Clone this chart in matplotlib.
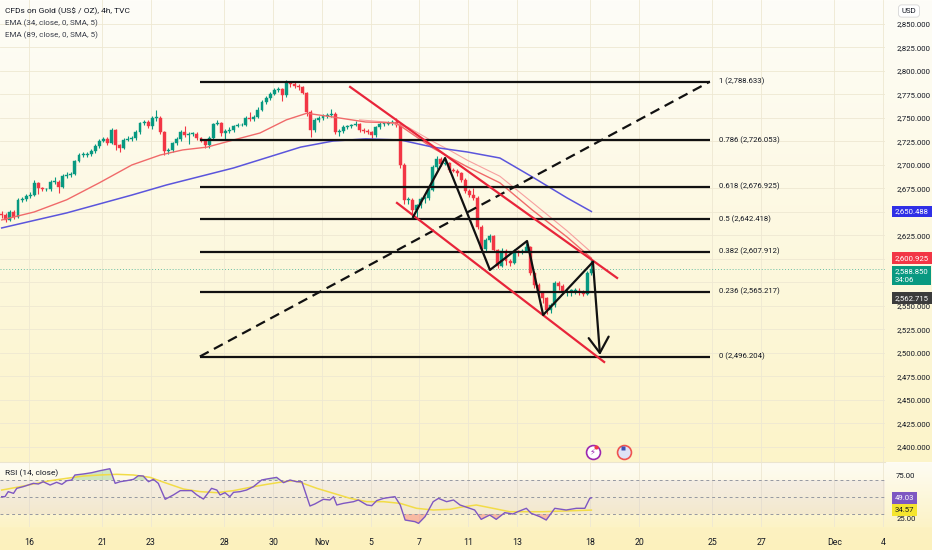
import numpy as np
import matplotlib.pyplot as plt
import matplotlib.transforms as mtransforms
from matplotlib.colors import to_rgb

plt.rcParams['font.family'] = ['Liberation Sans Narrow', 'Roboto', 'DejaVu Sans']

# ---- XAUUSD 4h candles, Oct 15 -> Nov 18 ----
first_open = 2648
closes = [2647, 2641, 2650, 2645, 2663, 2664, 2667, 2668, 2681, 2675,
          2674, 2674, 2682, 2682, 2677, 2688, 2689, 2690, 2704, 2711,
          2711, 2712, 2715, 2720, 2726, 2728, 2723, 2737, 2721, 2718,
          2727, 2728, 2729, 2735, 2745, 2746, 2741, 2750, 2750, 2735,
          2715, 2716, 2723, 2728, 2735, 2732, 2733, 2733, 2729, 2726,
          2721, 2729, 2744, 2745, 2734, 2736, 2737, 2741, 2742, 2743,
          2750, 2749, 2751, 2759, 2767, 2771, 2776, 2780, 2781, 2774,
          2787, 2786, 2784, 2783, 2777, 2756, 2737, 2748, 2750, 2752,
          2753, 2754, 2735, 2736, 2740, 2741, 2742, 2744, 2737, 2736,
          2735, 2732, 2740, 2744, 2744, 2745, 2746, 2742, 2700, 2663,
          2663, 2652, 2657, 2664, 2665, 2673, 2698, 2706, 2701, 2702,
          2695, 2694, 2691, 2684, 2672, 2668, 2665, 2634, 2611, 2620,
          2624, 2610, 2593, 2609, 2598, 2596, 2609, 2608, 2609, 2613,
          2585, 2572, 2564, 2558, 2546, 2551, 2574, 2571, 2565, 2566,
          2566, 2566, 2565, 2563, 2585, 2588.85]
highs = [2651, 2649, 2652, 2652, 2665, 2666, 2669, 2671, 2684, 2682,
         2677, 2676, 2684, 2687, 2684, 2690, 2693, 2692, 2705, 2713,
         2714, 2714, 2717, 2722, 2728, 2730, 2730, 2739, 2738, 2722,
         2729, 2731, 2731, 2737, 2746, 2748, 2748, 2752, 2758, 2752,
         2736, 2718, 2724, 2730, 2737, 2741, 2735, 2735, 2735, 2730,
         2727, 2731, 2745, 2748, 2746, 2738, 2740, 2743, 2745, 2745,
         2752, 2756, 2753, 2762, 2769, 2773, 2778, 2782, 2783, 2782,
         2790, 2789, 2788, 2786, 2784, 2778, 2758, 2750, 2752, 2754,
         2755, 2760, 2756, 2738, 2742, 2743, 2744, 2747, 2745, 2739,
         2738, 2736, 2741, 2746, 2746, 2747, 2748, 2750, 2744, 2702,
         2666, 2665, 2659, 2666, 2667, 2675, 2700, 2710, 2708, 2705,
         2703, 2697, 2696, 2692, 2686, 2674, 2675, 2667, 2636, 2622,
         2627, 2625, 2611, 2612, 2611, 2600, 2611, 2610, 2611, 2617,
         2614, 2587, 2574, 2566, 2560, 2553, 2577, 2577, 2573, 2569,
         2568, 2569, 2569, 2567, 2587, 2600.9]
lows = [2644, 2639, 2640, 2643, 2644, 2661, 2662, 2665, 2667, 2669,
        2672, 2672, 2672, 2680, 2670, 2676, 2686, 2687, 2689, 2703,
        2708, 2709, 2710, 2713, 2718, 2724, 2721, 2722, 2716, 2714,
        2717, 2725, 2726, 2727, 2733, 2743, 2739, 2738, 2747, 2733,
        2711, 2712, 2714, 2721, 2726, 2730, 2722, 2731, 2727, 2724,
        2718, 2718, 2727, 2743, 2731, 2727, 2734, 2735, 2740, 2741,
        2741, 2747, 2747, 2750, 2757, 2765, 2769, 2774, 2778, 2768,
        2772, 2783, 2782, 2780, 2775, 2752, 2730, 2735, 2746, 2748,
        2750, 2751, 2733, 2731, 2734, 2738, 2739, 2741, 2735, 2734,
        2733, 2729, 2730, 2738, 2741, 2742, 2743, 2740, 2697, 2658,
        2659, 2646, 2645, 2654, 2660, 2663, 2672, 2696, 2699, 2700,
        2693, 2692, 2688, 2682, 2670, 2666, 2663, 2632, 2608, 2609,
        2618, 2607, 2590, 2591, 2594, 2593, 2595, 2603, 2605, 2607,
        2583, 2569, 2561, 2553, 2541, 2543, 2549, 2567, 2563, 2561,
        2561, 2563, 2562, 2561, 2562, 2583]

# first candle sits this many trading days after Oct 16 (6 bars per day)
first_bar_day = -1.12

# EMA 34 / EMA 89 read at some candle indices
ema34_idx = [0, 8, 16, 24, 32, 39, 44.5, 50.5, 57, 63.5, 70, 75, 81.5, 89.5, 97,
             106, 110, 114.5, 122.5, 130.5, 139, 145]
ema34_val = [2641.5, 2650, 2663, 2681, 2700, 2710.6, 2716, 2719, 2726.6, 2734, 2748,
             2755, 2751, 2745.7, 2744.7, 2718, 2708.5, 2698, 2681, 2652, 2623.4, 2600.925]
ema34_sma_idx = [88, 95, 100, 106, 110, 114.5, 122.5, 130.5, 139, 145]
ema34_sma_val = [2748, 2745.5, 2740, 2725, 2716, 2705, 2688, 2660, 2630, 2607]
ema89_idx = [0, 16, 32, 40.5, 57, 73.5, 81.5, 89.5, 98, 106, 114.5, 122.5, 130.5, 139, 145]
ema89_val = [2633, 2649, 2668, 2678.7, 2696.8, 2719, 2725.5, 2727.7, 2726.6, 2719,
             2713.8, 2707.4, 2687.2, 2665, 2650.488]

# RSI(14) and its moving average
rsi_idx = [0, 0.8, 1.6, 2.9, 3.7, 5.3, 7.8, 9.0, 10.2, 11.9,
           13.5, 14.8, 16.0, 17.2, 18.0, 20.1, 22.1, 24.2, 26.6, 27.9,
           29.1, 30.7, 32.4, 33.6, 34.8, 36.1, 37.3, 38.5, 40.2, 42.2,
           43.9, 46.7, 48.0, 49.6, 51.6, 52.9, 53.7, 54.9, 56.1, 57.0,
           58.6, 60.2, 61.9, 63.9, 65.2, 67.6, 69.3, 70.9, 72.5, 73.8,
           75.8, 77.0, 79.1, 80.7, 81.6, 82.4, 84.0, 86.5, 87.7, 89.8,
           91.0, 92.2, 93.9, 95.5, 96.7, 98.0, 99.2, 101.6, 102.5, 104.1,
           106.1, 107.4, 109.4, 111.1, 112.7, 115.1, 116.3, 117.9, 120.0, 121.6,
           123.7, 125.7, 126.9, 129.0, 130.2, 132.3, 133.9, 136.0, 138.8, 141.3,
           143.4, 144.6, 145]
rsi_val = [50.4, 50.4, 56.3, 54.3, 60.2, 62.2, 66.1, 65.3, 68.0, 64.1,
           67.3, 64.9, 69.2, 70.0, 75.9, 77.1, 78.6, 81.0, 83.3, 66.1,
           68.0, 69.2, 70.8, 75.1, 74.7, 68.0, 70.8, 66.1, 47.3, 52.4,
           57.5, 57.5, 52.4, 47.6, 60.2, 58.2, 52.4, 55.1, 50.4, 55.5,
           56.3, 58.2, 62.2, 70.0, 71.2, 73.1, 66.9, 70.0, 68.0, 68.0,
           39.4, 41.8, 47.3, 46.5, 50.4, 40.6, 42.5, 44.5, 46.5, 40.6,
           39.8, 45.7, 48.4, 49.6, 50.4, 40.6, 22.9, 21.0, 19.0, 26.9,
           44.5, 48.4, 44.5, 46.5, 40.6, 36.7, 34.7, 23.7, 28.8, 23.7,
           31.6, 30.0, 32.7, 36.7, 30.8, 26.9, 22.9, 36.7, 34.7, 36.7,
           36.7, 48.4, 49.03]
rsi_ma_idx = [0, 3.7, 7.8, 11.9, 16.0, 20.1, 24.2, 28.3, 32.4, 36.5,
              40.6, 44.7, 48.8, 52.9, 57.0, 61.1, 65.2, 69.3, 71.7, 73.4,
              77.5, 81.6, 85.7, 89.8, 93.9, 98.0, 102.0, 106.1, 110.2, 112.6,
              116.7, 120.8, 124.9, 133.1, 145]
rsi_ma_val = [58.2, 61.4, 65.3, 69.2, 72.0, 74.7, 75.9, 76.7, 75.9, 73.1,
              66.1, 59.4, 56.3, 55.1, 57.5, 61.4, 64.9, 68.0, 69.2, 67.3,
              60.2, 54.3, 48.4, 44.5, 44.5, 42.5, 36.7, 34.7, 35.5, 37.8,
              40.6, 36.7, 32.7, 32.7, 34.57]

# drawings (x in trading days after Oct 16, y in price)
fib_days = [7.0, 27.9]
fib_levels = [1, 0.786, 0.618, 0.5, 0.382, 0.236, 0]
fib_prices = [2788.633, 2726.053, 2676.925, 2642.418, 2607.912, 2565.217, 2496.204]
chan_up_days, chan_up_prices = [13.16, 24.10], [2783.0, 2579.8]
chan_lo_days, chan_lo_prices = [15.08, 23.57], [2659.6, 2490.4]
zig_days = [15.74, 17.05, 18.89, 20.41, 21.07, 23.11]
zig_prices = [2644.7, 2707.4, 2588.3, 2619.1, 2540.4, 2596.8]
target_day, target_price = 23.40, 2497.9
prev_close = 2562.715
event_days = [23.1, 24.4]

price_ticks = list(range(2400, 2851, 25))
hidden_ticks = [2575, 2600, 2650]   # covered by the value badges on the scale

tick_days = [0, 3, 5, 8, 10, 12, 14, 16, 18, 20, 23, 25, 28, 30, 33, 35]
tick_labels = ['16', '21', '23', '28', '30', 'Nov', '5', '7', '11', '13',
               '18', '20', '25', '27', 'Dec', '4']

GREEN, RED, TEXT = '#089981', '#f23645', '#131722'
W, H = 932, 550

fig = plt.figure(figsize=(9.32, 5.5), dpi=100)

# gradient background, one per pane
def ramp(c1, c2, n):
    a, b = np.array(to_rgb(c1)), np.array(to_rgb(c2))
    t = np.linspace(0, 1, n)[:, None]
    return a + (b - a) * t

rows = np.vstack([ramp('#fefdf8', '#fcf4c9', 462),
                  ramp('#fefcf3', '#fcf3c6', 65),
                  ramp('#fcf2c1', '#fcf1bd', 23)])
bg = fig.add_axes([0, 0, 1, 1], zorder=-5)
bg.imshow(rows[:, None, :], aspect='auto', extent=[0, 1, 0, 1])
bg.axis('off')

# ---------------- main price pane ----------------
ax = fig.add_axes([0, 88 / H, 885 / W, 462 / H])
ax.set_facecolor('none')
ax.set_xlim(-1.19, 35.08)
ax.set_ylim(2384, 2875.5)
for s in ax.spines.values():
    s.set_visible(False)
ax.set_xticks(tick_days)
ax.tick_params(axis='x', length=0, labelbottom=False)
ax.yaxis.tick_right()
ax.set_yticks(price_ticks, ['' if v in hidden_ticks else f'{v:,.3f}' for v in price_ticks])
ax.tick_params(axis='y', length=0, pad=8, labelsize=5.6, labelcolor=TEXT)
ax.grid(True, color='#eee8d2', lw=0.6)
ax.set_axisbelow(True)

o = np.array([first_open] + closes[:-1], float)
c = np.array(closes, float)
xs = first_bar_day + np.arange(len(c)) / 6
col = np.where(c >= o, GREEN, RED)
ax.vlines(xs, lows, highs, colors=col, lw=0.8, zorder=3)
ax.bar(xs, np.maximum(np.abs(c - o), 0.8), bottom=np.minimum(o, c), width=0.12,
       color=col, edgecolor=col, lw=0.3, zorder=4)

day = lambda idx: first_bar_day + np.array(idx) / 6
ax.plot(day(ema34_sma_idx), ema34_sma_val, color='#f7a0a0', lw=0.8, zorder=5)
ax.plot(day(ema34_idx), ema34_val, color='#f06a6a', lw=1.0, zorder=5)
ax.plot(day(ema89_idx), ema89_val, color='#5b55dc', lw=1.1, zorder=5)

ax.axhline(c[-1], color=GREEN, lw=0.7, ls=(0, (1, 2)), alpha=0.6, zorder=2)

for lvl, p in zip(fib_levels, fib_prices):
    ax.plot(fib_days, [p, p], color='#111111', lw=1.6, zorder=6, solid_capstyle='butt')
    ax.text(fib_days[1] + 0.37, p, f'{lvl:g} ({p:,.3f})', fontsize=5.6,
            va='center', color=TEXT)
ax.plot(fib_days, [fib_prices[-1], fib_prices[0]], color='#111111', lw=1.6,
        ls=(0, (4.5, 2.7)), zorder=6)

ax.plot(chan_up_days, chan_up_prices, color='#e8253a', lw=1.6, zorder=6)
ax.plot(chan_lo_days, chan_lo_prices, color='#e8253a', lw=1.6, zorder=6)
ax.plot(zig_days, zig_prices, color='#111111', lw=1.6, zorder=7)
ax.annotate('', xy=(target_day, target_price), xytext=(zig_days[-1], zig_prices[-1]),
            arrowprops=dict(arrowstyle='->,head_length=0.7,head_width=0.45', lw=1.6,
                            color='#111111', shrinkA=0, shrinkB=0, mutation_scale=16),
            zorder=7)

# event icons near the bottom of the pane
evt = mtransforms.blended_transform_factory(ax.transData, ax.transAxes)
ax.plot([event_days[0]], [0.022], 'o', ms=10, mfc='white', mec='#9c27b0', mew=1.2,
        transform=evt, clip_on=False, zorder=8)
ax.text(event_days[0], 0.022, '\u26a1', transform=evt, fontsize=6, color='#9c27b0',
        ha='center', va='center', family='DejaVu Sans', zorder=9)
ax.plot([event_days[0] + 0.13], [0.033], 'o', ms=3, color=RED, mec='none',
        transform=evt, zorder=9)
ax.plot([event_days[1]], [0.022], 'o', ms=10, mfc='#dfe3f5', mec='#ef5350', mew=1.2,
        transform=evt, clip_on=False, zorder=8)
ax.plot([event_days[1] - 0.06], [0.03], 's', ms=3.5, color='#3f51b5', mec='none',
        transform=evt, zorder=9)

# price-scale badges
pt = mtransforms.blended_transform_factory(ax.transAxes, ax.transData)
bx = 1 + 10 / 885
def badge(y, txt, fc, tc='white', axis=ax, tr=pt, ls=1.05):
    axis.text(bx, y, txt, transform=tr, fontsize=5.6, color=tc, va='center',
              ha='left', clip_on=False, zorder=10, linespacing=ls,
              bbox=dict(boxstyle='square,pad=0.35', fc=fc, ec='none'))

badge(ema89_val[-1], f'{ema89_val[-1]:,.3f}', '#2f2fe6')
badge(ema34_val[-1], f'{ema34_val[-1]:,.3f}', RED)
badge(c[-1] - 6.5, f'{c[-1]:,.3f}\n34:06', GREEN, ls=1.45)
badge(prev_close - 4.2, f'{prev_close:,.3f}', '#3b3b3b')

fig.text(909 / W, 1 - 11 / H, 'USD', fontsize=5.6, color=TEXT, ha='center', va='center',
         bbox=dict(boxstyle='round,pad=0.4', fc='white', ec='#d6d6d6', lw=0.6))

fig.text(5 / W, 1 - 11 / H, 'CFDs on Gold (US$ / OZ), 4h, TVC', fontsize=6.0,
         color=TEXT, va='center')
fig.text(5 / W, 1 - 23 / H, 'EMA (34, close, 0, SMA, 5)', fontsize=5.8, color='#3a3e4a',
         va='center')
fig.text(5 / W, 1 - 35 / H, 'EMA (89, close, 0, SMA, 5)', fontsize=5.8, color='#3a3e4a',
         va='center')

# ---------------- RSI pane ----------------
rx = fig.add_axes([0, 23 / H, 885 / W, 65 / H], sharex=ax)
rx.set_facecolor('none')
rx.set_ylim(14.7, 91.2)
for k, s in rx.spines.items():
    s.set_visible(k == 'top')
rx.spines['top'].set_color('#ebe5cf')
rx.spines['top'].set_linewidth(0.8)
rx.axhspan(30, 70, color='#7e57c2', alpha=0.07, lw=0)
for lv in (70, 50, 30):
    rx.axhline(lv, color='#9598a1', lw=0.7, ls=(0, (3, 3)))
rx.grid(axis='x', color='#eee8d2', lw=0.6)
rx.set_axisbelow(True)

rsi_x = day(rsi_idx)
rv = np.array(rsi_val)
rx.fill_between(rsi_x, 70, rv, where=rv > 70, interpolate=True, color='#66bb6a',
                alpha=0.3, lw=0)
rx.fill_between(rsi_x, 30, rv, where=rv < 30, interpolate=True, color='#f23645',
                alpha=0.3, lw=0)
rx.plot(day(rsi_ma_idx), rsi_ma_val, color='#f2dc47', lw=1.1)
rx.plot(rsi_x, rsi_val, color='#7e57c2', lw=1.0)

rx.yaxis.tick_right()
rx.set_yticks([25, 75], ['25.00', '75.00'])
rx.tick_params(axis='y', length=0, pad=8, labelsize=5.6, labelcolor=TEXT)
rx.set_xticks(tick_days, tick_labels)
rx.tick_params(axis='x', length=0, pad=8, labelsize=6.3, labelcolor=TEXT)

rt = mtransforms.blended_transform_factory(rx.transAxes, rx.transData)
badge(rsi_val[-1], f'{rsi_val[-1]:.2f}', '#7e57c2', axis=rx, tr=rt)
badge(rsi_ma_val[-1], f'{rsi_ma_val[-1]:.2f}', '#f5e52e', tc=TEXT, axis=rx, tr=rt)

fig.text(5 / W, 1 - 473 / H, 'RSI (14, close)', fontsize=6.0, color=TEXT, va='center')

fig.savefig('out.png', dpi=100)
